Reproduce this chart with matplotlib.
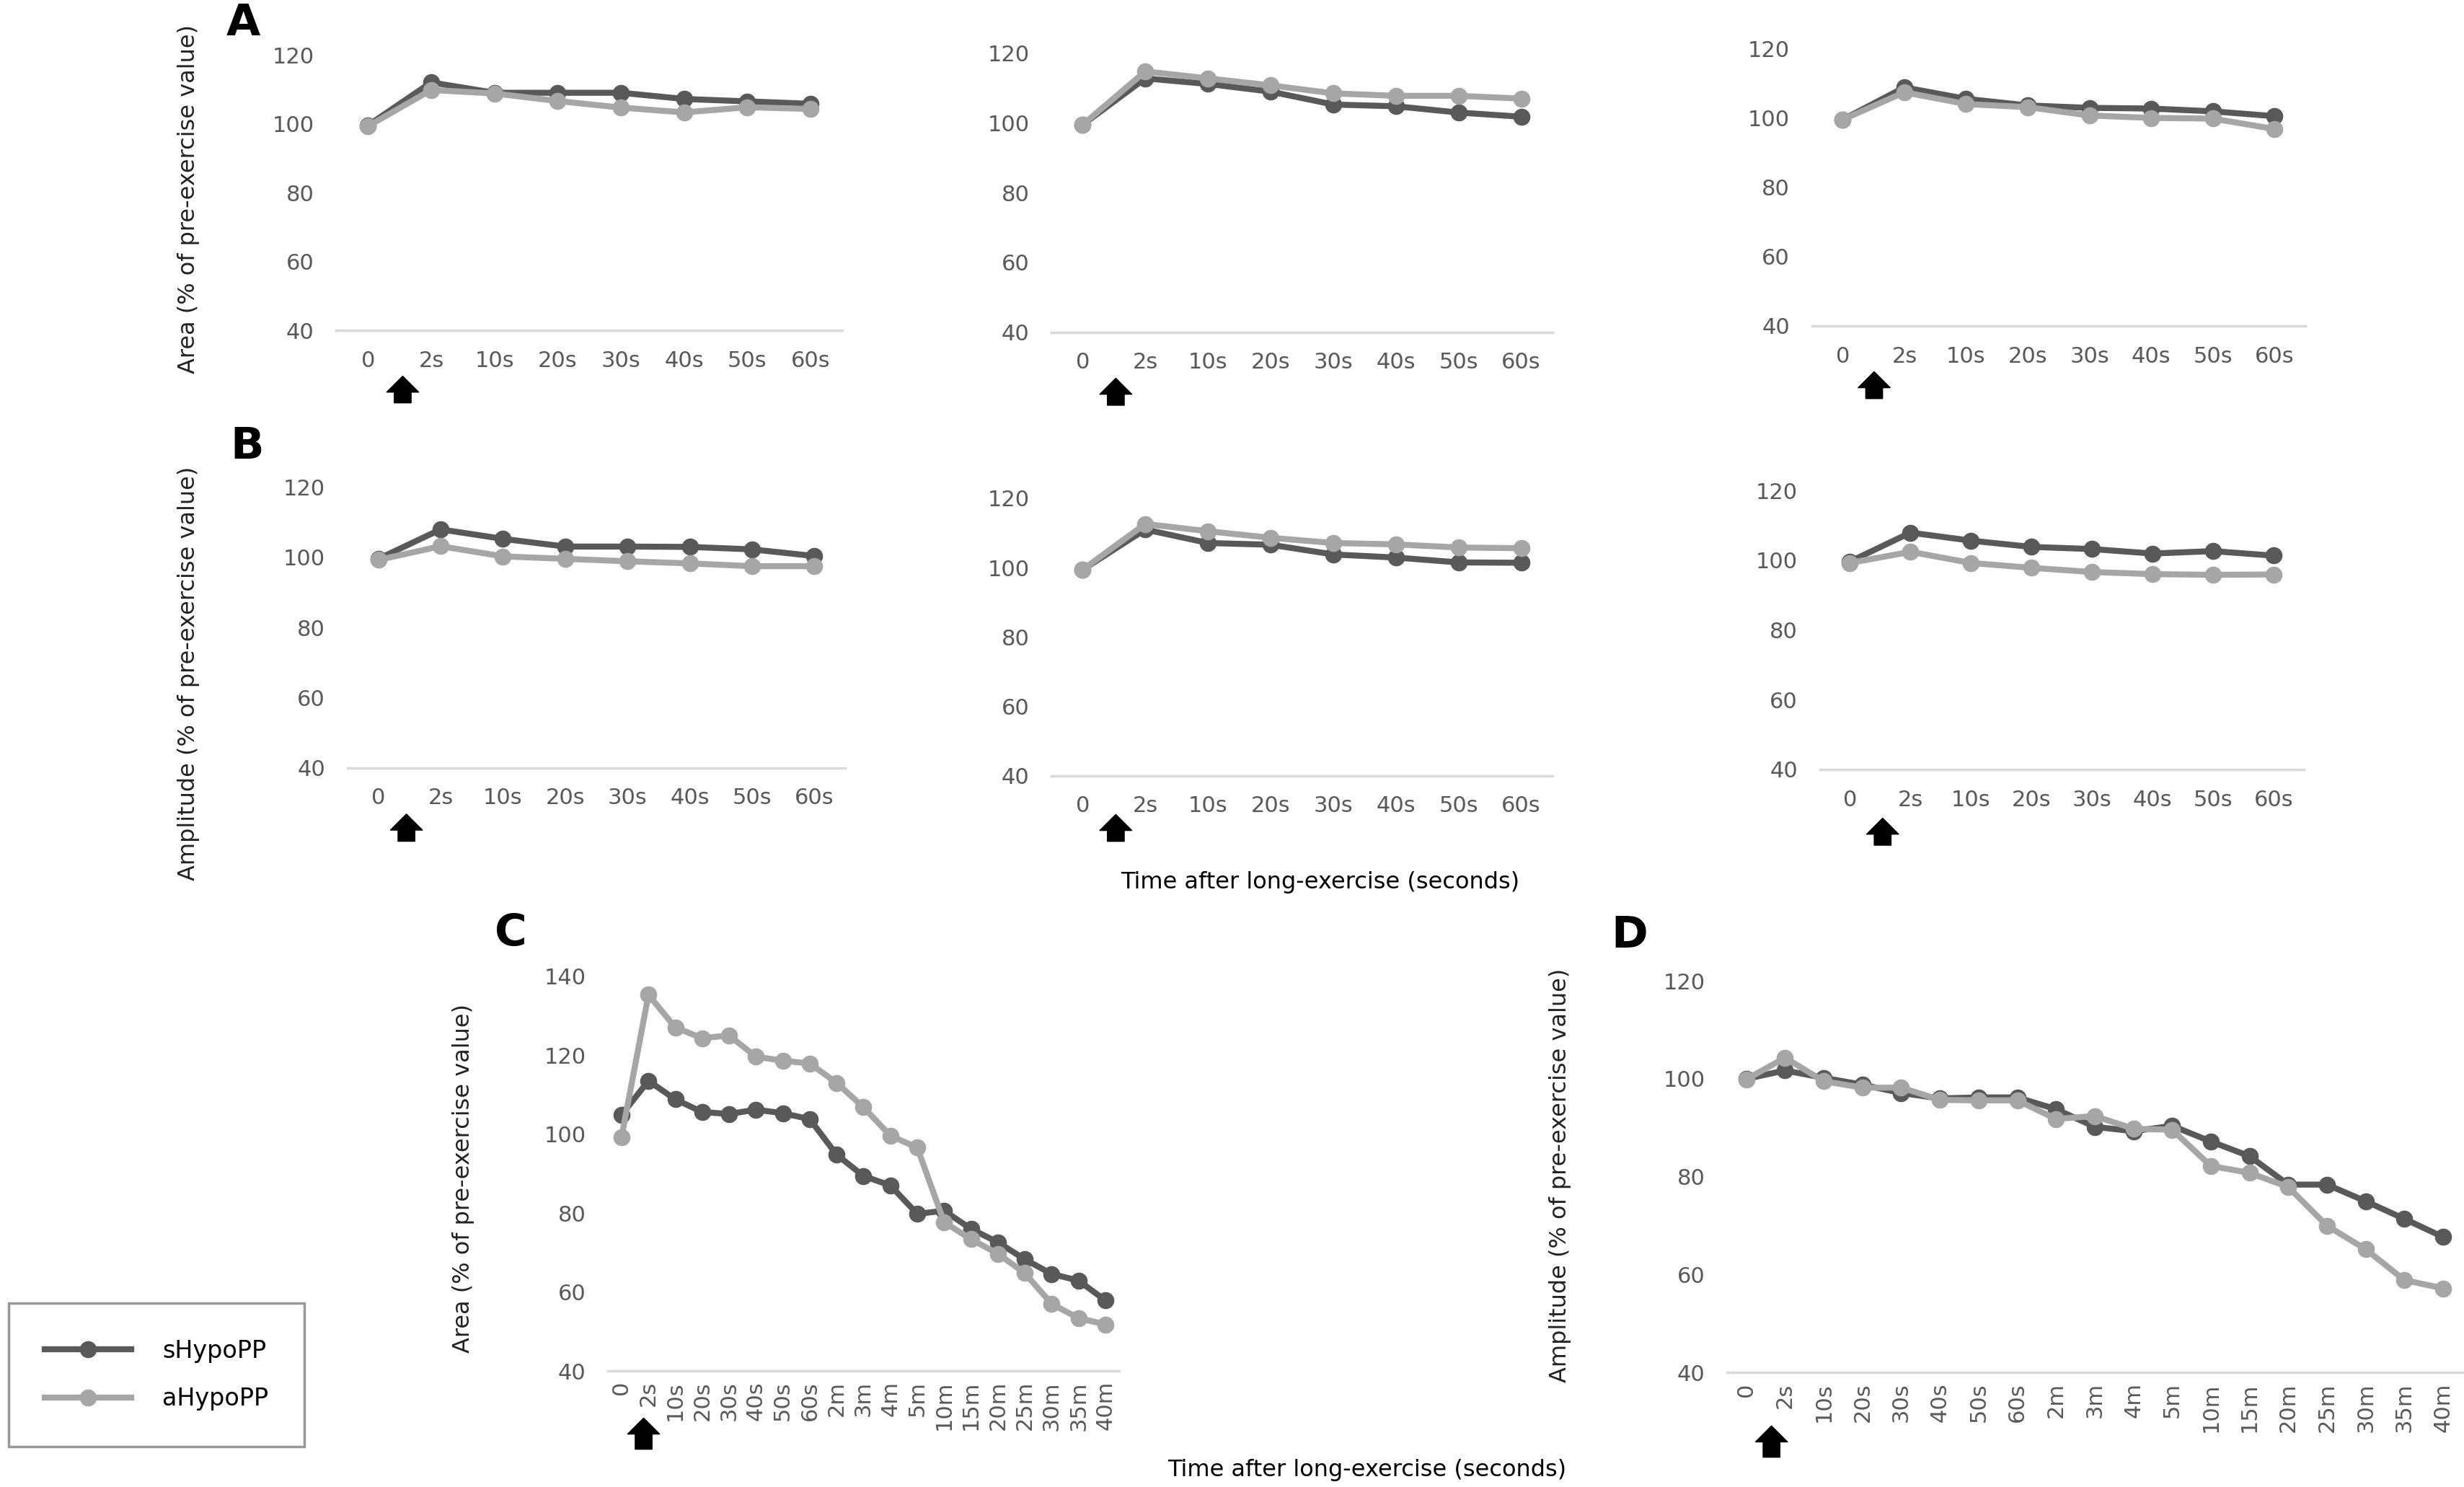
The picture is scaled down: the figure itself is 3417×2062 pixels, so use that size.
import numpy as np
import matplotlib
matplotlib.use("Agg")
import matplotlib.pyplot as plt

plt.rcParams['font.family'] = ['DejaVu Sans']

# categories
sec_labels = ['0', '2s', '10s', '20s', '30s', '40s', '50s', '60s']
long_labels = ['0', '2s', '10s', '20s', '30s', '40s', '50s', '60s', '2m', '3m', '4m', '5m',
               '10m', '15m', '20m', '25m', '30m', '35m', '40m']

# A: area, three groups
area_s_1 = [99.5, 112.0, 109.0, 109.0, 109.0, 107.2, 106.5, 105.8]
area_a_1 = [99.3, 109.8, 108.8, 106.6, 104.7, 103.3, 104.8, 104.3]
area_s_2 = [99.5, 112.8, 111.2, 109.0, 105.3, 104.8, 103.0, 101.8]
area_a_2 = [99.5, 114.8, 112.8, 110.8, 108.5, 107.8, 107.8, 107.0]
area_s_3 = [99.5, 108.8, 105.5, 103.6, 102.9, 102.7, 101.9, 100.5]
area_a_3 = [99.5, 107.4, 104.0, 103.1, 100.7, 100.0, 99.8, 96.8]

# B: amplitude, three groups
amp_s_1 = [99.6, 108.0, 105.3, 103.1, 103.1, 103.0, 102.3, 100.4]
amp_a_1 = [99.3, 103.2, 100.3, 99.6, 98.9, 98.3, 97.5, 97.5]
amp_s_2 = [99.4, 111.0, 107.1, 106.6, 103.8, 102.9, 101.5, 101.4]
amp_a_2 = [99.4, 112.6, 110.5, 108.6, 107.1, 106.7, 105.8, 105.6]
amp_s_3 = [99.6, 107.9, 105.6, 103.8, 103.2, 101.9, 102.6, 101.3]
amp_a_3 = [99.2, 102.4, 99.2, 97.8, 96.6, 96.0, 95.8, 95.9]

# C: area, long follow-up
area_s_long = [104.9, 113.5, 108.8, 105.6, 105.1, 106.2, 105.3, 103.8, 94.8, 89.4, 87.0, 79.8,
               80.6, 76.0, 72.6, 68.3, 64.6, 62.9, 57.9]
area_a_long = [99.3, 135.3, 127.0, 124.3, 125.0, 119.6, 118.6, 117.9, 113.0, 106.8, 99.6, 96.6,
               77.7, 73.4, 69.7, 64.8, 57.0, 53.4, 51.8]

# D: amplitude, long follow-up
amp_s_long = [100.0, 101.7, 100.2, 98.8, 97.1, 96.0, 96.2, 96.2, 93.8, 90.2, 89.3, 90.4,
              87.2, 84.2, 78.4, 78.4, 75.0, 71.4, 67.7]
amp_a_long = [99.9, 104.3, 99.5, 98.2, 98.2, 95.7, 95.6, 95.6, 91.8, 92.4, 89.8, 89.6,
              82.2, 80.8, 77.9, 70.0, 65.2, 58.9, 57.2]

DARK = '#595959'
LIGHT = '#A6A6A6'
W, H = 1568.0, 949.0   # layout grid used for placement


def box(x0, x1, ytop, ybot):
    return [x0 / W, 1 - ybot / H, (x1 - x0) / W, (ybot - ytop) / H]


def panel(rect, s, a, labels, ymax, arrow_x, arrow_y, rotate=False):
    ax = fig.add_axes(rect)
    x = np.arange(len(labels))
    ax.plot(x, s, color=DARK, lw=6, marker='o', ms=16, label='sHypoPP')
    ax.plot(x, a, color=LIGHT, lw=6, marker='o', ms=16, label='aHypoPP')
    ax.set_xlim(-0.5, len(labels) - 0.5)
    ax.set_ylim(40, ymax)
    ax.set_yticks(np.arange(40, ymax + 1, 20))
    ax.set_xticks(x)
    if rotate:
        ax.set_xticklabels(labels, rotation=90, va='top', ha='center')
        ax.tick_params(axis='x', pad=10)
    else:
        ax.set_xticklabels(labels)
        ax.tick_params(axis='x', pad=20)
    ax.tick_params(axis='both', length=0, labelsize=22, labelcolor=DARK)
    ax.tick_params(axis='y', pad=22)
    for sp in ['top', 'right', 'left']:
        ax.spines[sp].set_visible(False)
    ax.spines['bottom'].set_color('#D9D9D9')
    ax.spines['bottom'].set_linewidth(2.5)
    ax.patch.set_alpha(0)
    ax.annotate('', xy=(arrow_x, arrow_y[0]), xycoords=('data', 'axes fraction'),
                xytext=(arrow_x, arrow_y[1]), textcoords=('data', 'axes fraction'),
                arrowprops=dict(arrowstyle='simple,head_length=0.4,head_width=0.8,tail_width=0.42',
                                color='black', shrinkA=0, shrinkB=0, mutation_scale=40),
                annotation_clip=False)
    return ax


fig = plt.figure(figsize=(34.17, 20.62), dpi=100)

arrA = (-0.165, -0.262)
axA1 = panel(box(214, 536, 35, 211), area_s_1, area_a_1, sec_labels, 120, 0.55, arrA)
panel(box(669, 988, 34, 212), area_s_2, area_a_2, sec_labels, 120, 0.53, arrA)
panel(box(1153, 1467, 31, 208), area_s_3, area_a_3, sec_labels, 120, 0.51, arrA)

panel(box(221, 538, 311, 490), amp_s_1, amp_a_1, sec_labels, 120, 0.45, (-0.165, -0.262))
panel(box(669, 988, 318, 495), amp_s_2, amp_a_2, sec_labels, 120, 0.53, (-0.14, -0.237))
panel(box(1158, 1466, 313, 491), amp_s_3, amp_a_3, sec_labels, 120, 0.54, (-0.175, -0.272))

panel(box(387, 712, 623, 875), area_s_long, area_a_long, long_labels, 140, 0.82,
      (-0.119, -0.198), rotate=True)
panel(box(1099, 1567, 626, 876), amp_s_long, amp_a_long, long_labels, 120, 0.65,
      (-0.136, -0.216), rotate=True)

# axis titles
lab = dict(rotation=90, ha='center', va='center', fontsize=23, color='#222222')
fig.text(120 / W, 1 - 127 / H, 'Area (% of pre-exercise value)', **lab)
fig.text(120 / W, 1 - 430 / H, 'Amplitude (% of pre-exercise value)', **lab)
fig.text(295 / W, 1 - 752 / H, 'Area (% of pre-exercise value)', **lab)
fig.text(993 / W, 1 - 750 / H, 'Amplitude (% of pre-exercise value)', **lab)

fig.text(840 / W, 1 - 563 / H, 'Time after long-exercise (seconds)', ha='center', va='center',
         fontsize=23, color='black')
fig.text(870 / W, 1 - 938 / H, 'Time after long-exercise (seconds)', ha='center', va='center',
         fontsize=23, color='black')

# panel letters
for t, x, y in [('A', 155, 15), ('B', 157, 285), ('C', 325, 596), ('D', 1037, 597)]:
    fig.text(x / W, 1 - y / H, t, ha='center', va='center', fontsize=44, fontweight='bold')

handles, labels = axA1.get_legend_handles_labels()
leg = fig.legend(handles, labels, loc='center', bbox_to_anchor=(99.5 / W, 1 - 877.5 / H),
                 fontsize=24, frameon=True, fancybox=False, borderpad=1.5, labelspacing=1.0,
                 handlelength=3.6, handletextpad=1.3, borderaxespad=0)
leg.get_frame().set_edgecolor('#7F7F7F')
leg.get_frame().set_linewidth(2.5)
fig.canvas.draw()
leg._legend_box.set_width  # keep default packing

plt.savefig('out.png', dpi=100)
